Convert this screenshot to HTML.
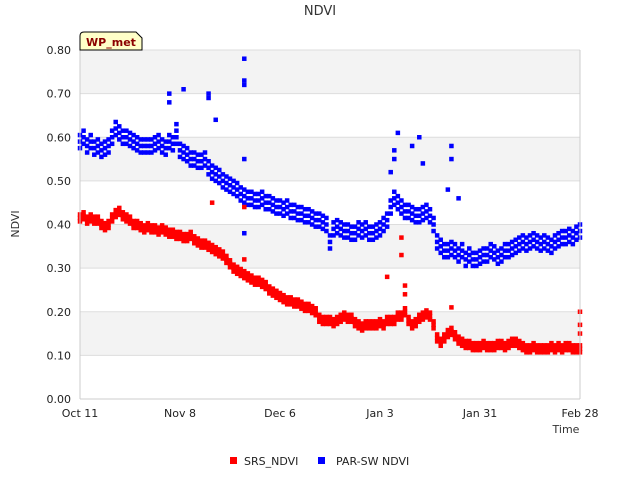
<!DOCTYPE html>
<html><head><meta charset="utf-8"><style>
body{margin:0;background:#fff;font-family:"Liberation Sans","DejaVu Sans",sans-serif}
svg text{font-family:"DejaVu Sans","Liberation Sans",sans-serif}
</style></head><body>
<svg id="chart" width="640" height="480" xmlns="http://www.w3.org/2000/svg">
<text x="320" y="15" text-anchor="middle" font-size="13" fill="#333">NDVI</text>
<g id="bands"></g><g id="grid"></g>
<g id="marks"></g>
<line x1="580" y1="50" x2="580" y2="399" stroke="#ccc"/>
<line x1="80" y1="399" x2="580" y2="399" stroke="#ccc"/>
<line x1="80" y1="50" x2="80" y2="399" stroke="#ccc"/>
<g id="yticks"></g><g id="xticks"></g>
<text transform="translate(19,224) rotate(-90)" text-anchor="middle" font-size="11" fill="#333">NDVI</text>
<text x="566" y="433" text-anchor="middle" font-size="11" fill="#333">Time</text>
<g>
<path d="M80,50 L80,36 Q80,32 84,32 L136,32 L142,38 L142,50 Z" fill="#ffffc8" stroke="#000" stroke-width="1"/>
<text x="111" y="46" text-anchor="middle" font-size="11" font-weight="bold" fill="#8b0000">WP_met</text>
</g>
<g>
<rect x="230" y="457" width="7" height="7" fill="#f00"/>
<text x="244" y="465" font-size="11" fill="#222">SRS_NDVI</text>
<rect x="318" y="457" width="7" height="7" fill="#00f"/>
<text x="336" y="465" font-size="11" fill="#222">PAR-SW NDVI</text>
</g>
</svg>
<script>
const yTicks=[0,0.1,0.2,0.3,0.4,0.5,0.6,0.7,0.8];
const xTickDays=[0,28,56,84,112,140];
const xTickLabels=["Oct 11","Nov 8","Dec 6","Jan 3","Jan 31","Feb 28"];
const srsDaily=[.415,.42,.41,.415,.41,.41,.40,.395,.40,.415,
.425,.43,.42,.415,.41,.40,.40,.395,.39,.395,
.39,.39,.385,.39,.385,.38,.38,.375,.375,.37,
.37,.375,.365,.36,.355,.355,.35,.345,.34,.335,
.33,.32,.31,.30,.295,.29,.285,.28,.275,.27,
.27,.265,.26,.25,.245,.24,.235,.23,.225,.225,
.22,.22,.215,.21,.21,.205,.20,.185,.18,.18,
.18,.175,.18,.185,.19,.185,.185,.175,.17,.165,
.17,.17,.17,.17,.175,.17,.18,.18,.18,.19,
.19,.20,.18,.17,.175,.185,.19,.195,.19,.17,
.14,.13,.14,.15,.155,.145,.135,.13,.125,.125,
.12,.12,.12,.125,.12,.12,.12,.125,.125,.12,
.125,.13,.13,.125,.12,.115,.115,.12,.115,.115,
.115,.115,.12,.115,.12,.115,.12,.12,.115,.115,.115];
const parDaily=[.59,.60,.58,.59,.575,.58,.57,.575,.58,.60,
.62,.61,.60,.60,.595,.59,.585,.58,.58,.58,
.58,.585,.59,.58,.575,.59,.585,.60,.57,.565,
.56,.55,.55,.545,.545,.55,.53,.52,.515,.51,
.50,.495,.49,.485,.48,.47,.465,.46,.46,.455,
.455,.46,.45,.45,.445,.44,.44,.435,.44,.43,
.43,.425,.425,.42,.42,.415,.41,.41,.405,.40,
.36,.39,.395,.39,.385,.385,.38,.38,.39,.385,
.39,.38,.38,.385,.39,.40,.41,.44,.46,.45,
.44,.43,.43,.425,.42,.42,.425,.43,.42,.40,
.36,.35,.34,.34,.345,.34,.33,.34,.32,.33,
.32,.32,.325,.33,.33,.34,.335,.325,.33,.34,
.34,.345,.35,.355,.36,.355,.36,.365,.36,.355,
.36,.355,.35,.36,.365,.37,.37,.375,.37,.38,.385];
const srsOutDays=[37,46,46,86,90,90,91,91,104,140,140,140];
const srsOutVals=[.45,.44,.32,.28,.37,.33,.26,.24,.21,.20,.17,.15];
const parOutDays=[25,25,29,36,36,46,46,46,46,46,27,38,95,88,88,87,104,104,103,106,93,89,96];
const parOutVals=[.70,.68,.71,.70,.69,.78,.72,.73,.55,.38,.63,.64,.60,.57,.55,.52,.58,.55,.48,.46,.58,.61,.54];
const NS="http://www.w3.org/2000/svg";
const X=d=>80+d*500/140, Y=v=>399-v*349/0.8;
function mk(tag,attrs,parent){const e=document.createElementNS(NS,tag);for(const k in attrs)e.setAttribute(k,attrs[k]);document.getElementById(parent).appendChild(e);return e;}
for(let i=0;i<yTicks.length-1;i++){if(i%2===1){const r=mk('rect',{x:80,y:Y(yTicks[i+1]),width:500,height:Y(yTicks[i])-Y(yTicks[i+1]),fill:'#f3f3f3'},'bands');

}}
yTicks.forEach(v=>{const l=mk('line',{x1:80,x2:580,y1:Y(v),y2:Y(v),stroke:'#ddd'},'grid');


const t=mk('text',{x:71,y:Y(v)+4,'text-anchor':'end','font-size':11,fill:'#222'},'yticks');t.textContent=v.toFixed(2);

});
xTickDays.forEach((d,i)=>{const t=mk('text',{x:X(d),y:417,'text-anchor':'middle','font-size':11,fill:'#222'},'xticks');t.textContent=xTickLabels[i];

});
function pt(d,v,c,name){const r=mk('rect',{x:X(d)-2.25,y:Y(v)-2.25,width:4.5,height:4.5,fill:c},'marks');

}
const sp={srs:0.008,par:0.015};
parDaily.forEach((v,d)=>{[-sp.par,0,sp.par].forEach(o=>pt(d,v+o,'#00f','par-point'));});
parOutDays.forEach((d,i)=>pt(d,parOutVals[i],'#00f','par-point'));
srsDaily.forEach((v,d)=>{[-sp.srs,0,sp.srs].forEach(o=>pt(d,v+o,'#f00','srs-point'));});
srsOutDays.forEach((d,i)=>pt(d,srsOutVals[i],'#f00','srs-point'));
</script>
</body></html>
